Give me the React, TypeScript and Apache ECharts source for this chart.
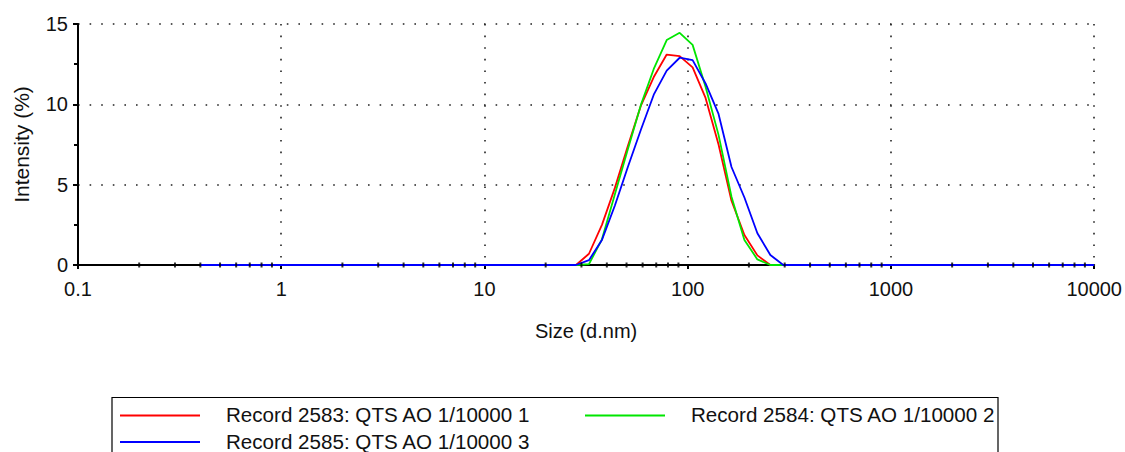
import React, { useEffect, useRef } from "react";
import * as echarts from "echarts";

// Size bins (d.nm)
const sizes = [
  0.4, 0.4632, 0.5365, 0.6213, 0.7195, 0.8332, 0.9649, 1.117, 1.294, 1.499,
  1.736, 2.01, 2.328, 2.696, 3.122, 3.615, 4.187, 4.849, 5.615, 6.503,
  7.531, 8.721, 10.1, 11.7, 13.54, 15.69, 18.17, 21.04, 24.36, 28.21,
  32.67, 37.84, 43.82, 50.75, 58.77, 68.06, 78.82, 91.28, 105.7, 122.4,
  141.8, 164.2, 190.1, 220.2, 255.0, 295.3, 342.0, 396.1, 458.7, 531.2,
  615.1, 712.4, 825.0, 955.4, 1106, 1281, 1484, 1718, 1990, 2305,
  2669, 3091, 3580, 4145, 4801, 5560, 6439, 7456, 8635, 10000,
];

const red = [
  0, 0, 0, 0, 0, 0, 0, 0, 0, 0,
  0, 0, 0, 0, 0, 0, 0, 0, 0, 0,
  0, 0, 0, 0, 0, 0, 0, 0, 0, 0,
  0.7, 2.5, 4.8, 7.4, 9.9, 11.7, 13.1, 13.0, 12.3, 10.4,
  7.5, 4.0, 1.87, 0.6, 0, 0, 0, 0, 0, 0,
  0, 0, 0, 0, 0, 0, 0, 0, 0, 0,
  0, 0, 0, 0, 0, 0, 0, 0, 0, 0,
];

const green = [
  0, 0, 0, 0, 0, 0, 0, 0, 0, 0,
  0, 0, 0, 0, 0, 0, 0, 0, 0, 0,
  0, 0, 0, 0, 0, 0, 0, 0, 0, 0,
  0.05, 1.6, 4.4, 7.2, 9.95, 12.2, 14.0, 14.45, 13.7, 11.1,
  8.1, 4.25, 1.56, 0.35, 0, 0, 0, 0, 0, 0,
  0, 0, 0, 0, 0, 0, 0, 0, 0, 0,
  0, 0, 0, 0, 0, 0, 0, 0, 0, 0,
];

const blue = [
  0, 0, 0, 0, 0, 0, 0, 0, 0, 0,
  0, 0, 0, 0, 0, 0, 0, 0, 0, 0,
  0, 0, 0, 0, 0, 0, 0, 0, 0, 0,
  0.3, 1.56, 3.7, 6.1, 8.4, 10.6, 12.1, 12.9, 12.75, 11.3,
  9.4, 6.1, 4.2, 1.98, 0.62, 0, 0, 0, 0, 0,
  0, 0, 0, 0, 0, 0, 0, 0, 0, 0,
  0, 0, 0, 0, 0, 0, 0, 0, 0, 0,
];

const seriesNames = [
  "Record 2583: QTS AO 1/10000 1",
  "Record 2584: QTS AO 1/10000 2",
  "Record 2585: QTS AO 1/10000 3",
];
const seriesColors = ["#ff0000", "#00e600", "#0000ff"];

const xTickLabels = ["0.1", "1", "10", "100", "1000", "10000"];
const xMinorTicks = [
  0.2, 0.3, 0.4, 0.5, 0.6, 0.7, 0.8, 0.9,
  2, 3, 4, 5, 6, 7, 8, 9,
  20, 30, 40, 50, 60, 70, 80, 90,
  200, 300, 400, 500, 600, 700, 800, 900,
  2000, 3000, 4000, 5000, 6000, 7000, 8000, 9000,
];
const yTicks = [0, 5, 10, 15];

const FONT = "Liberation Sans, Arial, sans-serif";

export default function App() {
  const ref = useRef<HTMLDivElement>(null);

  useEffect(() => {
    if (!ref.current) return;
    const chart = echarts.init(ref.current, null, { renderer: "svg" });
    const dotted = { color: "#222", width: 1.6, type: [1.6, 10] as any };
    const mk = (vals: number[]) => sizes.map((s, i) => [s, vals[i]]);
    const allVals = [red, green, blue];

    const legendRow = [415.5, 415.5, 442];
    const legendLineX = [120, 585, 120];

    const graphic: any[] = [
      {
        type: "rect",
        shape: { x: 112, y: 397.5, width: 886, height: 80 },
        style: { fill: "none", stroke: "#000", lineWidth: 1.2 },
        silent: true,
      },
    ];
    seriesNames.forEach((n, i) => {
      graphic.push({
        type: "line",
        shape: { x1: legendLineX[i], y1: legendRow[i], x2: legendLineX[i] + 80, y2: legendRow[i] },
        style: { stroke: seriesColors[i], lineWidth: 2 },
        silent: true,
      });
      graphic.push({
        type: "text",
        x: legendLineX[i] + 106,
        y: legendRow[i],
        scaleX: 1.03,
        style: {
          text: n,
          fill: "#111",
          font: `20px ${FONT}`,
          verticalAlign: "middle",
          align: "left",
        },
        silent: true,
      });
    });

    const series: any[] = seriesNames.map((n, i) => ({
      name: n,
      type: "line",
      data: mk(allVals[i]),
      showSymbol: false,
      symbol: "none",
      lineStyle: { color: seriesColors[i], width: 1.8 },
      itemStyle: { color: seriesColors[i] },
      z: 3 + i,
    }));
    series.push({
      name: "minorTicks",
      type: "scatter",
      data: xMinorTicks.map((v) => [v, 0]),
      symbol: "rect",
      symbolSize: [2, 5],
      itemStyle: { color: "#000" },
      silent: true,
      z: 10,
    });

    chart.setOption({
      animation: false,
      backgroundColor: "#fff",
      grid: { left: 78, right: 28, top: 24, bottom: 187 },
      xAxis: {
        type: "log",
        logBase: 10,
        min: 0.1,
        max: 10000,
        name: "Size (d.nm)",
        nameLocation: "middle",
        nameGap: 56,
        nameTextStyle: { fontFamily: FONT, fontSize: 20, color: "#111" },
        axisLine: { show: true, lineStyle: { color: "#000", width: 2 } },
        axisTick: { show: true, length: 4, lineStyle: { color: "#000", width: 2 } },
        minorTick: { show: false },
        axisLabel: {
          margin: 14,
          fontFamily: FONT,
          fontSize: 20,
          color: "#111",
          formatter: (v: number) => xTickLabels[Math.round(Math.log10(v)) + 1] ?? "",
        },
        splitLine: { show: true, lineStyle: dotted },
      },
      yAxis: {
        type: "value",
        min: 0,
        max: 15,
        interval: 5,
        name: "Intensity (%)",
        nameLocation: "middle",
        nameGap: 46,
        nameTextStyle: { fontFamily: FONT, fontSize: 21, color: "#111" },
        axisLine: { show: true, lineStyle: { color: "#000", width: 2 } },
        axisTick: { show: true, length: 5, lineStyle: { color: "#000", width: 2 } },
        minorTick: { show: true, splitNumber: 2, length: 4, lineStyle: { color: "#000", width: 2 } },
        axisLabel: {
          margin: 10,
          fontFamily: FONT,
          fontSize: 20,
          color: "#111",
          formatter: (v: number) => (yTicks.includes(v) ? String(v) : ""),
        },
        splitLine: { show: true, lineStyle: dotted },
      },
      series,
      graphic,
    });
    return () => chart.dispose();
  }, []);

  return <div ref={ref} style={{ width: 1125, height: 452, position: "absolute", left: 0, top: 0 }} />;
}
